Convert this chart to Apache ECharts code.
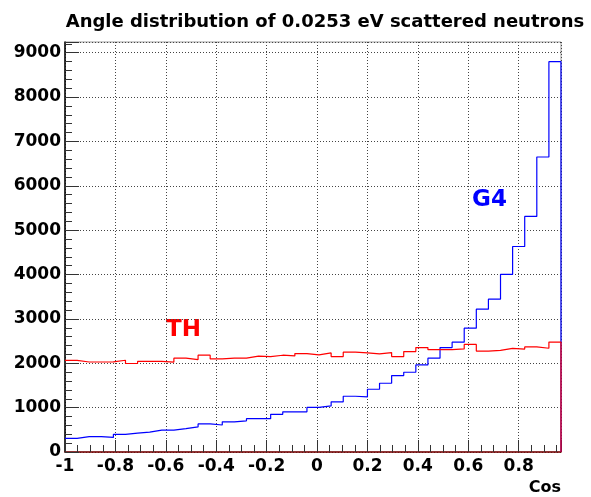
<!DOCTYPE html>
<html>
<head>
<meta charset="utf-8">
<script src="https://cdn.jsdelivr.net/npm/echarts@6/dist/echarts.min.js"></script>
<style>
  html, body { margin: 0; padding: 0; background: #fff; }
  #chart { width: 591px; height: 497px; }
</style>
</head>
<body>
<div id="chart"></div>
<script>
// Histogram binning along cos(theta)
const binStart = -1;
const binWidth = 0.048;
const xTicks = [-1, -0.8, -0.6, -0.4, -0.2, 0, 0.2, 0.4, 0.6, 0.8];
const yTicks = [0, 1000, 2000, 3000, 4000, 5000, 6000, 7000, 8000, 9000];

// Geant4 counts per bin
const g4Counts = [
  309, 345, 345, 328, 399, 425, 448, 492, 492, 525,
  565, 632, 609, 680, 703, 752, 752, 850, 905, 905,
  1004, 1038, 1130, 1256, 1241, 1414, 1549, 1722, 1797, 1963,
  2114, 2353, 2474, 2790, 3219, 3444, 4005, 4631, 5308, 6648,
  8797
];

// Theoretical counts per bin
const thCounts = [
  2065, 2028, 2028, 2030, 2068, 1995, 2042, 2042, 2026, 2114,
  2082, 2181, 2098, 2114, 2114, 2159, 2150, 2181, 2166, 2218,
  2188, 2233, 2150, 2249, 2233, 2211, 2240, 2150, 2263, 2353,
  2305, 2305, 2323, 2425, 2275, 2290, 2335, 2320, 2368, 2338,
  2478
];

const xMax = binStart + binWidth * g4Counts.length;
const yMax = 9240;

// Turn bin contents into an outline (flat top per bin, vertical between bins)
function outline(counts) {
  const pts = [];
  counts.forEach((v, i) => {
    const lo = binStart + i * binWidth;
    const hi = lo + binWidth;
    pts.push([lo, v], [hi, v]);
  });
  pts.push([xMax, 0]);
  return pts;
}

const font = '"DejaVu Sans", "Liberation Sans", Arial, sans-serif';
const chart = echarts.init(document.getElementById('chart'), null, { renderer: 'canvas' });

chart.setOption({
  backgroundColor: '#ffffff',
  animation: false,
  title: {
    text: 'Angle distribution of 0.0253 eV scattered neutrons',
    left: 320,
    top: 8,
    textAlign: 'center',
    textStyle: { fontFamily: font, fontWeight: 'bold', fontSize: 18, color: '#000' }
  },
  grid: {
    left: 65, right: 30, top: 42, bottom: 45,
    show: true, borderColor: '#9a9a9a', borderWidth: 1, backgroundColor: 'transparent'
  },
  xAxis: {
    type: 'value',
    min: binStart,
    max: xMax,
    interval: 0.2,
    name: 'Cos',
    nameLocation: 'end',
    nameGap: 0,
    nameTextStyle: {
      fontFamily: font, fontWeight: 'bold', fontSize: 16, color: '#000',
      align: 'right', verticalAlign: 'top', padding: [28, 0, 0, 0]
    },
    axisLine: { show: true, onZero: false, lineStyle: { color: '#7a0000', width: 1.5 } },
    axisTick: { show: true, inside: true, length: 12, lineStyle: { color: '#333', width: 1 } },
    minorTick: { show: true, splitNumber: 4, length: 7, lineStyle: { color: '#333', width: 1 } },
    axisLabel: {
      fontFamily: font, fontWeight: 'bold', fontSize: 17, color: '#000', margin: 6,
      showMaxLabel: false,
      formatter: v => xTicks.some(t => Math.abs(t - v) < 1e-9) ? String(Math.round(v * 10) / 10) : ''
    },
    splitLine: { show: true, lineStyle: { color: '#444', type: [1, 2], width: 1 } }
  },
  yAxis: {
    type: 'value',
    min: 0,
    max: yMax,
    interval: 1000,
    axisLine: { show: true, onZero: false, lineStyle: { color: '#000', width: 1.5 } },
    axisTick: { show: true, inside: true, length: 14, lineStyle: { color: '#333', width: 1 } },
    minorTick: { show: true, splitNumber: 5, length: 7, lineStyle: { color: '#333', width: 1 } },
    axisLabel: {
      fontFamily: font, fontWeight: 'bold', fontSize: 17, color: '#000', margin: 4,
      showMaxLabel: false,
      formatter: v => yTicks.includes(v) ? String(v) : ''
    },
    splitLine: { show: true, lineStyle: { color: '#444', type: [1, 2], width: 1 } }
  },
  series: [
    {
      name: 'G4',
      type: 'line',
      data: outline(g4Counts),
      symbol: 'none',
      lineStyle: { color: '#0000ff', width: 1.2 },
      z: 3
    },
    {
      name: 'TH',
      type: 'line',
      data: outline(thCounts),
      symbol: 'none',
      lineStyle: { color: '#ff0000', width: 1.2 },
      z: 4,
      markLine: {
        silent: true,
        symbol: 'none',
        label: { show: false },
        lineStyle: { color: '#e00000', type: 'solid', width: 1.5 },
        data: [{ xAxis: xMax }]
      }
    }
  ],
  graphic: [
    {
      type: 'text', left: 166, top: 319,
      style: { text: 'TH', fill: '#ff0000', font: 'bold 23px ' + font }
    },
    {
      type: 'text', left: 472, top: 189,
      style: { text: 'G4', fill: '#0000ff', font: 'bold 23px ' + font }
    }
  ]
});
</script>
</body>
</html>
